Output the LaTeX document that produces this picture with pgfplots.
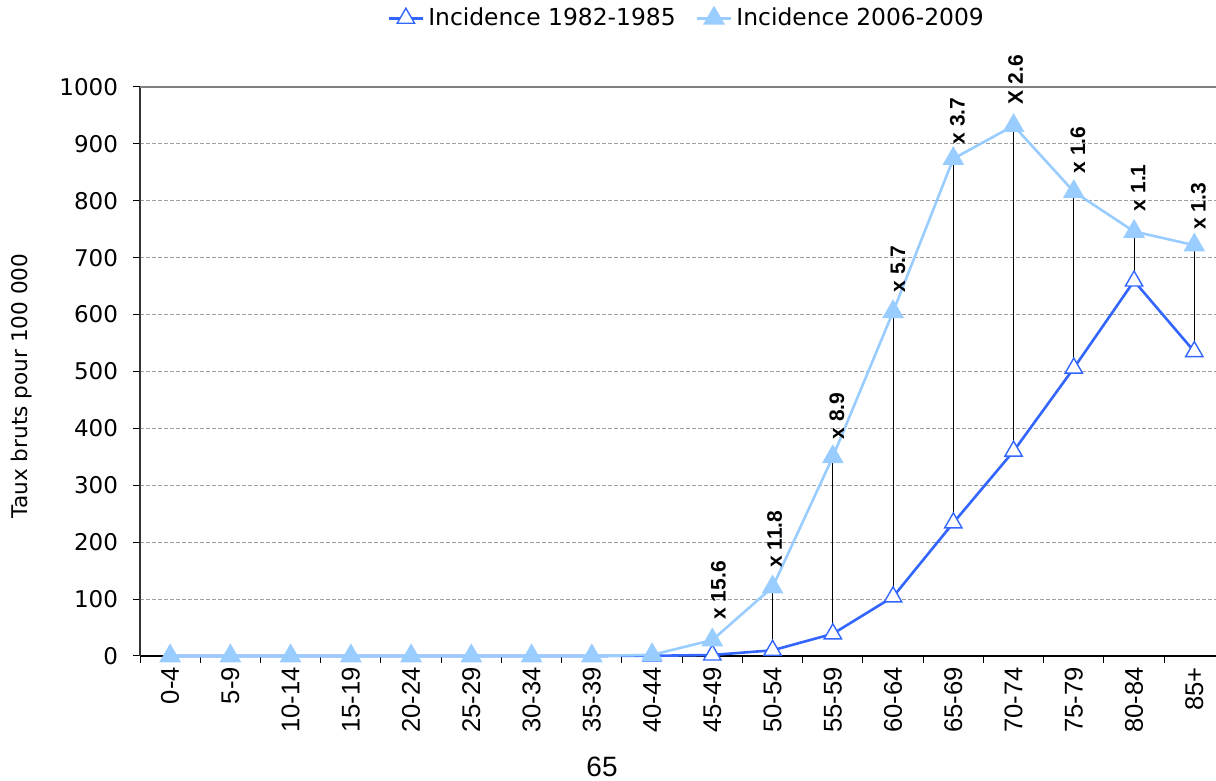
\documentclass[border=0pt]{standalone}
\usepackage{fontspec}
\setmainfont{Liberation Sans}
\newfontfamily\dv{DejaVu Sans}
\usepackage{pgfplots}
\pgfplotsset{compat=1.18}
\definecolor{darkb}{HTML}{3366FF}
\definecolor{lightb}{HTML}{99CCFF}
\begin{document}
\begin{tikzpicture}
\useasboundingbox (0,0) rectangle (608pt,390.5pt);
\begin{axis}[
  at={(70pt,62.5pt)}, anchor=south west,
  scale only axis, width=538pt, height=284.5pt,
  xmin=-0.5, xmax=17.36, ymin=0, ymax=1000,
  clip=false,
  axis x line=bottom, axis y line=left, axis line style={-},
  x axis line style={black, line width=0.6pt},
  y axis line style={black!80, line width=0.6pt},
  tick align=outside,
  major tick length=3.5pt,
  tick style={black, line width=0.5pt},
  xtick={-0.5,0.5,...,16.5}, xticklabels={},
  extra x ticks={0,1,2,3,4,5,6,7,8,9,10,11,12,13,14,15,16,17},
  extra x tick labels={0-4,5-9,10-14,15-19,20-24,25-29,30-34,35-39,40-44,45-49,50-54,55-59,60-64,65-69,70-74,75-79,80-84,85+},
  extra x tick style={major tick length=0pt, xticklabel style={rotate=90, anchor=east, xshift=-2pt, font=\fontsize{12.8}{14}\selectfont}},
  ytick={0,100,...,1000},
  ymajorgrids,
  grid style={gray!75, dash pattern=on 2pt off 1pt, line width=0.5pt},
  /pgf/number format/assume math mode=true,
  /pgf/number format/1000 sep={},
  yticklabel style={xshift=-4pt, font=\dv\fontsize{11.5}{13}\selectfont},
  ylabel={Taux bruts pour 100 000},
  ylabel style={at={(axis description cs:-0.1097,0.4745)}, anchor=center, font=\dv\fontsize{10.8}{13}\selectfont},
  legend columns=2,
  legend style={draw=none, fill=none, at={(0.509,1)}, anchor=south, yshift=25pt,
    font=\dv\fontsize{11.7}{14}\selectfont, /tikz/every even column/.append style={column sep=8pt}},
  legend cell align=left,
]
\addplot[darkb, line width=1.3pt, mark=triangle*, mark size=5pt,
  mark options={fill=white, draw=darkb, line width=0.7pt}]
  coordinates {(0,0) (1,0) (2,0) (3,0) (4,0) (5,0) (6,0) (7,0) (8,0.3) (9,1.8) (10,10) (11,39) (12,104) (13,234) (14,360) (15,506) (16,659) (17,535)};
\addlegendentry{Incidence 1982-1985}
\addplot[lightb, line width=1.3pt, mark=triangle*, mark size=5pt,
  mark options={fill=lightb, draw=lightb}]
  coordinates {(0,0) (1,0) (2,0) (3,0) (4,0) (5,0) (6,0) (7,0) (8,2) (9,28) (10,121) (11,350) (12,605) (13,874) (14,932) (15,816) (16,746) (17,722)};
\addlegendentry{Incidence 2006-2009}
\addplot[black, line width=0.5pt, unbounded coords=jump, forget plot]
  coordinates {(9,1.8) (9,28) (9,nan) (10,10) (10,121) (10,nan) (11,39) (11,350) (11,nan)
   (12,104) (12,605) (12,nan) (13,234) (13,874) (13,nan) (14,360) (14,932) (14,nan)
   (15,506) (15,816) (15,nan) (16,659) (16,746) (16,nan) (17,535) (17,722)};
\draw[gray, line width=0.6pt] (rel axis cs:0,1) -- (rel axis cs:1,1);
\tikzset{lab/.style={rotate=90, anchor=west, inner sep=0pt, font=\bfseries\fontsize{10.5}{12}\selectfont}}
\node[xshift=3pt, yshift=10pt, lab] at (axis cs:9,28) {x 15.6};
\node[xshift=1pt, yshift=9.5pt, lab] at (axis cs:10,121) {x 11.8};
\node[xshift=2pt, yshift=8.5pt, lab] at (axis cs:11,350) {x 8.9};
\node[xshift=2.5pt, yshift=9.5pt, lab] at (axis cs:12,605) {x 5.7};
\node[xshift=2pt, yshift=7pt, lab] at (axis cs:13,874) {x 3.7};
\node[xshift=1pt, yshift=10.5pt, lab] at (axis cs:14,932) {X 2.6};
\node[xshift=2pt, yshift=9pt, lab] at (axis cs:15,816) {x 1.6};
\node[xshift=2pt, yshift=10pt, lab] at (axis cs:16,746) {x 1.1};
\node[xshift=2pt, yshift=7.5pt, lab] at (axis cs:17,722) {x 1.3};
\end{axis}
\node[anchor=base, inner sep=0pt, font=\fontsize{14}{16}\selectfont] at (301pt,2.2pt) {65};
\end{tikzpicture}
\end{document}
